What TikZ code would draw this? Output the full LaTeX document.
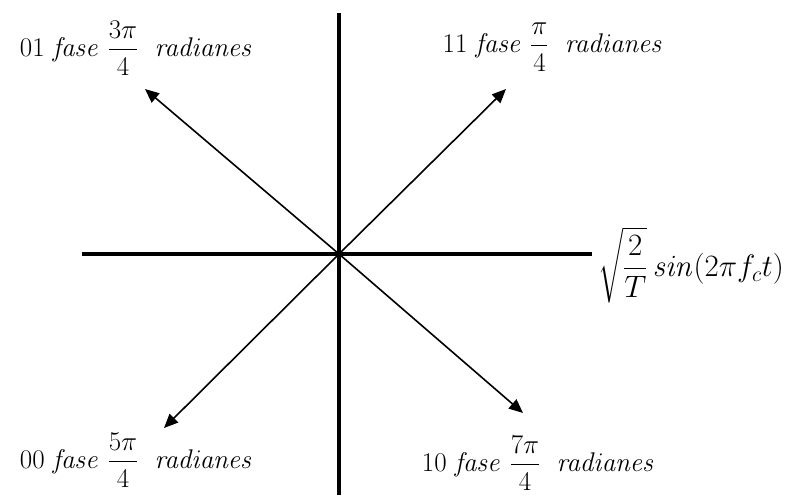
\RequirePackage{fix-cm}
\documentclass[tikz,border=0pt]{standalone}
\usepackage{amsmath}
\usetikzlibrary{arrows.meta}
\begin{document}
\begin{tikzpicture}[x=1pt,y=-1pt,
  axis/.style={line width=4pt},
  vec/.style={line width=1.6pt,-{Triangle[length=14pt,width=12pt]}},
  lbl/.style={font=\fontsize{27}{32}\selectfont, inner sep=0pt},
  big/.style={font=\fontsize{31}{36}\selectfont, inner sep=0pt}]
\useasboundingbox (0,0) rectangle (800,495);
\coordinate (O) at (339,254);
\coordinate (top) at (339,13);
\coordinate (bot) at (339,495);
\coordinate (left) at (82,254);
\coordinate (right) at (592,254);
\draw[axis] (top) -- (bot);
\draw[axis] (left) -- (right);
\coordinate (ul) at (145,89);
\coordinate (ur) at (506,89);
\coordinate (ll) at (164,428);
\coordinate (lr) at (523,413);
\draw[vec] (O) -- (ul);
\draw[vec] (O) -- (ur);
\draw[vec] (O) -- (ll);
\draw[vec] (O) -- (lr);
\node[lbl] (tl) at (136.5,48) {01 $\mathit{fase}\ \dfrac{3\pi}{4}\ \ \mathit{radianes}$};
\node[lbl] (tr) at (553,47) {11 $\mathit{fase}\ \dfrac{\pi}{4}\ \ \mathit{radianes}$};
\node[lbl] (bl) at (136.5,460) {00 $\mathit{fase}\ \dfrac{5\pi}{4}\ \ \mathit{radianes}$};
\node[lbl] (br) at (538.5,463) {10 $\mathit{fase}\ \dfrac{7\pi}{4}\ \ \mathit{radianes}$};
\node[big] (sig) at (691,265) {$\sqrt{\dfrac{2}{T}}\,\mathit{sin}(2\pi f_c t)$};
\end{tikzpicture}
\end{document}
